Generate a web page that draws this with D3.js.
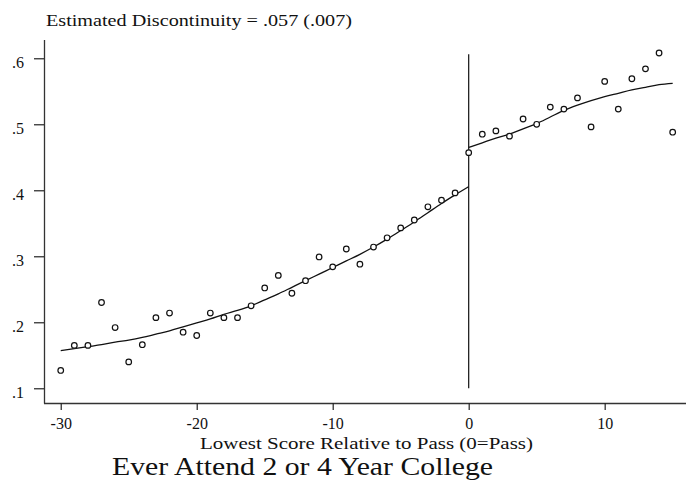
<!DOCTYPE html>
<html>
<head>
<meta charset="utf-8">
<script src="https://cdn.jsdelivr.net/npm/d3@7"></script>
<style>
  html, body { margin: 0; padding: 0; background: #fff; }
  svg { display: block; }
</style>
</head>
<body>
<div id="chart"></div>
<script>
// Binned means by lowest score relative to the pass mark.
var scores = [-30, -29, -28, -27, -26, -25, -24, -23, -22, -21, -20, -19, -18, -17, -16,
  -15, -14, -13, -12, -11, -10, -9, -8, -7, -6, -5, -4, -3, -2, -1,
  0, 1, 2, 3, 4, 5, 6, 7, 8, 9, 10, 11, 12, 13, 14, 15];
var attendRate = [0.127, 0.165, 0.165, 0.230, 0.192, 0.140, 0.166, 0.207, 0.214, 0.185, 0.180, 0.214, 0.207, 0.207, 0.225,
  0.252, 0.271, 0.244, 0.263, 0.299, 0.284, 0.311, 0.288, 0.314, 0.328, 0.343, 0.355, 0.375, 0.385, 0.396,
  0.457, 0.485, 0.490, 0.482, 0.508, 0.500, 0.526, 0.523, 0.540, 0.496, 0.565, 0.523, 0.569, 0.584, 0.608, 0.488];

// Fitted curves on each side of the cutoff.
var fitLeftX = [-30, -29, -28, -27, -26, -25, -24, -23, -22, -21, -20, -19, -18, -17, -16,
  -15, -14, -13, -12, -11, -10, -9, -8, -7, -6, -5, -4, -3, -2, -1, 0];
var fitLeftY = [0.157, 0.160, 0.163, 0.166, 0.170, 0.173, 0.177, 0.182, 0.187, 0.193, 0.199, 0.205, 0.212, 0.218, 0.225,
  0.234, 0.243, 0.253, 0.263, 0.273, 0.283, 0.293, 0.303, 0.314, 0.326, 0.339, 0.352, 0.366, 0.380, 0.393, 0.4055];
var fitRightX = [0, 1, 2, 3, 4, 5, 6, 7, 8, 9, 10, 11, 12, 13, 14, 15];
var fitRightY = [0.465, 0.472, 0.479, 0.485, 0.493, 0.501, 0.511, 0.521, 0.529, 0.536, 0.542, 0.547, 0.552, 0.556, 0.560, 0.562];

var xTicks = [-30, -20, -10, 0, 10];
var yTicks = [0.1, 0.2, 0.3, 0.4, 0.5, 0.6];
var cutoff = 0;
var cutoffSpan = [0.1, 0.606];

var subtitle = "Estimated Discontinuity = .057 (.007)";
var xTitle = "Lowest Score Relative to Pass (0=Pass)";
var title = "Ever Attend 2 or 4 Year College";

var width = 686, height = 482;
var serif = "'Liberation Serif', 'Times New Roman', 'DejaVu Serif', serif";

var svg = d3.select("#chart").append("svg")
  .attr("width", width)
  .attr("height", height)
  .attr("font-family", serif);

var x = d3.scaleLinear().domain([-31.23, 15.98]).range([44, 686]);
var y = d3.scaleLinear().domain([0.0777, 0.6277]).range([403, 40]);

function fmt(d) { return d3.format(".1f")(d).replace(/^0/, ""); }

// y axis
var yAxis = svg.append("g")
  .attr("transform", "translate(44,0)")
  .call(d3.axisLeft(y).tickValues(yTicks).tickFormat(fmt).tickSize(10).tickPadding(10));
yAxis.selectAll("text").attr("dy", "0.56em");

// x axis, plain hyphen for negatives like the original
var xAxis = svg.append("g")
  .attr("transform", "translate(0,403)")
  .call(d3.axisBottom(x).tickValues(xTicks).tickFormat(function (d) { return String(d); }).tickSize(7).tickPadding(8));

[yAxis, xAxis].forEach(function (g) {
  g.attr("font-family", serif).attr("font-size", 16);
});

svg.selectAll(".domain").attr("stroke", "#333").attr("stroke-width", 1.3);
svg.selectAll(".tick line").attr("stroke", "#222").attr("stroke-width", 1.2);
svg.selectAll(".tick text").attr("fill", "#111");
yAxis.select(".domain").attr("d", "M0.5," + y.range()[1] + "V" + (y.range()[0] + 0.5));
xAxis.select(".domain").attr("d", "M" + x.range()[0] + ",0.5H" + x.range()[1]);

// cutoff line
svg.append("line")
  .attr("x1", x(cutoff)).attr("x2", x(cutoff))
  .attr("y1", y(cutoffSpan[0])).attr("y2", y(cutoffSpan[1]))
  .attr("stroke", "#111").attr("stroke-width", 1.2);

// fitted lines
var line = d3.line()
  .x(function (d) { return x(d[0]); })
  .y(function (d) { return y(d[1]); })
  .curve(d3.curveMonotoneX);

[[fitLeftX, fitLeftY], [fitRightX, fitRightY]].forEach(function (s) {
  svg.append("path")
    .datum(d3.zip(s[0], s[1]))
    .attr("d", line)
    .attr("fill", "none")
    .attr("stroke", "#111")
    .attr("stroke-width", 1.3);
});

// points
svg.append("g").selectAll("circle")
  .data(d3.zip(scores, attendRate))
  .join("circle")
  .attr("cx", function (d) { return x(d[0]); })
  .attr("cy", function (d) { return y(d[1]); })
  .attr("r", 2.8)
  .attr("fill", "#fff")
  .attr("stroke", "#111")
  .attr("stroke-width", 1.2);

// texts
function addText(str, tx, ty, size, len) {
  svg.append("text")
    .attr("x", tx).attr("y", ty)
    .attr("font-family", serif)
    .attr("font-size", size)
    .attr("fill", "#111")
    .attr("textLength", len).attr("lengthAdjust", "spacingAndGlyphs")
    .text(str);
}
addText(subtitle, 46, 26, 17, 306);
addText(xTitle, 200, 449, 16.5, 333);
addText(title, 112, 475, 25, 381);
</script>
</body>
</html>
